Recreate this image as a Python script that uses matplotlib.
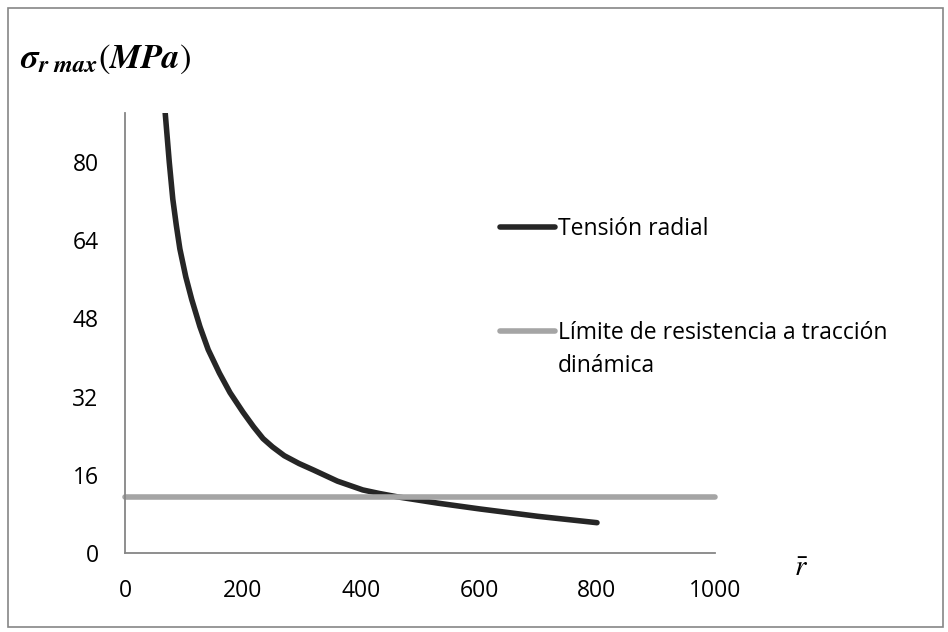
import matplotlib
matplotlib.use("Agg")
import matplotlib.pyplot as plt
from matplotlib.lines import Line2D
from matplotlib.patches import Rectangle


# radial stress curve
r_radial = [58, 68, 75, 81, 87, 93, 103, 113, 127, 141, 160, 178, 200, 218, 234,
	250, 270, 295, 319, 360, 403, 430, 461, 530, 602, 700, 800]
s_radial = [104, 90.2, 80.0, 72.4, 67.0, 62.2, 56.5, 51.9, 46.3, 41.6, 36.8, 32.8, 28.8, 25.8, 23.4,
	21.7, 19.9, 18.3, 17.0, 14.7, 12.9, 12.2, 11.5, 10.2, 9.0, 7.5, 6.2]

# dynamic tensile strength limit
r_limit = [0, 1000]
s_limit = [11.5, 11.5]

x_ticks = [0, 200, 400, 600, 800, 1000]
y_ticks = [0, 16, 32, 48, 64, 80]

label_radial = "Tensión radial"
label_limit = "Límite de resistencia a tracción\ndinámica"

plt.rcParams['font.family'] = ['Open Sans', 'DejaVu Sans']
plt.rcParams['mathtext.fontset'] = 'stix'

W, H = 948, 632
fig = plt.figure(figsize=(W / 100, H / 100), dpi=100)

ax = fig.add_axes([125 / W, 1 - 553 / H, (715 - 125) / W, (553 - 113) / H])

ax.plot(r_radial, s_radial, color='#262626', linewidth=4.0, solid_capstyle='round',
	solid_joinstyle='round')
ax.plot(r_limit, s_limit, color='#a5a5a5', linewidth=4.0, solid_capstyle='round', clip_on=False)

ax.set_xlim(0, 1000)
ax.set_ylim(0, 90)
ax.set_xticks(x_ticks)
ax.set_yticks(y_ticks)
ax.tick_params(length=0, labelsize=16.5)
ax.tick_params(axis='x', pad=19)
ax.tick_params(axis='y', pad=19)

for side in ['top', 'right']:
	ax.spines[side].set_visible(False)
for side in ['left', 'bottom']:
	ax.spines[side].set_color('#868686')
	ax.spines[side].set_linewidth(1.3)

# legend, placed by hand like the original
def legend_entry(y_px, color, text):
	fig.add_artist(Line2D([500 / W, 555 / W], [1 - y_px / H, 1 - y_px / H],
		color=color, linewidth=4.0, solid_capstyle='round'))
	for i, line in enumerate(text.split("\n")):
		fig.text(558 / W, 1 - (y_px + 8 + 33 * i) / H, line, fontsize=16.5,
			va='baseline', ha='left')

legend_entry(227, '#262626', label_radial)
legend_entry(331, '#a5a5a5', label_limit)

# axis titles
fig.text(20 / W, 1 - 68 / H, r'$\mathbfit{\sigma}_{\mathbfit{r\ max}}(\mathbfit{MPa})$',
	fontsize=25, ha='left', va='baseline')
fig.text(801 / W, 1 - 569 / H, r'$\bar{r}$', fontsize=21, ha='center', va='center')

# outer frame
fig.add_artist(Rectangle((8 / W, 5 / H), 935 / W, 619 / H, transform=fig.transFigure,
	fill=False, edgecolor='#868686', linewidth=1.2))

fig.savefig("out.png", dpi=100)
